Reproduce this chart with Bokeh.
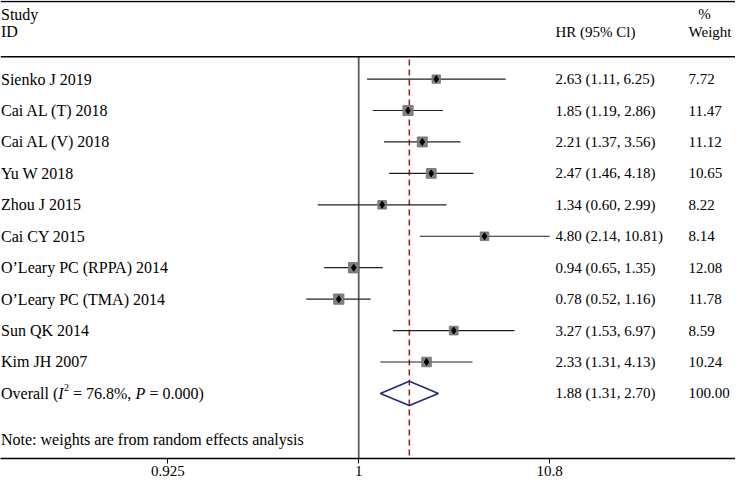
import math
from bokeh.plotting import figure
from bokeh.models import Range1d, Span, FixedTicker, ColumnDataSource
from bokeh.core.properties import value
from bokeh.embed import file_html
from bokeh.resources import INLINE

# ---------------- data ----------------
studies = ["Sienko J 2019", "Cai AL (T) 2018", "Cai AL (V) 2018", "Yu W 2018",
           "Zhou J 2015", "Cai CY 2015", "O\u2019Leary PC (RPPA) 2014",
           "O\u2019Leary PC (TMA) 2014", "Sun QK 2014", "Kim JH 2007"]
hr = [2.63, 1.85, 2.21, 2.47, 1.34, 4.80, 0.94, 0.78, 3.27, 2.33]
ci_low = [1.11, 1.19, 1.37, 1.46, 0.60, 2.14, 0.65, 0.52, 1.53, 1.31]
ci_high = [6.25, 2.86, 3.56, 4.18, 2.99, 10.81, 1.35, 1.16, 6.97, 4.13]
weights = [7.72, 11.47, 11.12, 10.65, 8.22, 8.14, 12.08, 11.78, 8.59, 10.24]
overall_hr = 1.88
overall_low = 1.31
overall_high = 2.70
overall_weight = 100.00
tick_values = [0.0925, 1, 10.8]
tick_labels = ["0.925", "1", "10.8"]

# ---------------- layout helpers ----------------
K = 81.95   # reference px per ln unit
X0 = 366.0  # reference px of HR = 1


def xref(px):
    return math.exp((px - X0) / K)


SERIF = "Liberation Serif"
NB = "\u00a0"
rows = list(range(len(studies)))
overall_row = len(studies)

p = figure(width=735, height=478, x_axis_type="log",
           x_range=Range1d(xref(0), xref(751)), y_range=Range1d(12.07, -2.5),
           y_axis_location=None, toolbar_location=None, output_backend="svg",
           min_border=0, min_border_left=0, min_border_right=0, min_border_top=0)
p.outline_line_color = None
p.xgrid.visible = False
p.ygrid.visible = False
p.background_fill_color = "white"
p.border_fill_color = "white"

# horizontal rules
p.add_layout(Span(location=-2.47, dimension="width", line_color="black", line_width=1.5))
p.add_layout(Span(location=-0.71, dimension="width", line_color="black", line_width=1.5))

# reference line at 1 and overall dashed line
p.segment(x0=[1], y0=[-0.71], x1=[1], y1=[12.07], line_color="#555555", line_width=1.7)
p.segment(x0=[overall_hr], y0=[-0.62], x1=[overall_hr], y1=[12.07],
          line_color="#9b1b1b", line_width=1.5, line_dash="6 4")

# study CIs and boxes
src = ColumnDataSource(dict(
    y=rows, hr=hr, lo=ci_low, hi=ci_high,
    size=[3.0 * math.sqrt(w) for w in weights],
    label=studies,
    est=[f"{h:.2f} ({l:.2f}, {u:.2f})" for h, l, u in zip(hr, ci_low, ci_high)],
    wt=[f"{w:.2f}" for w in weights],
))
p.segment(x0="lo", y0="y", x1="hi", y1="y", source=src, line_color="#222222", line_width=1.2)
p.scatter(x="hr", y="y", size="size", marker="square", source=src,
          fill_color="#808080", line_color="#6e6e6e", line_width=0.8)
p.scatter(x="hr", y="y", size=7, marker="diamond", source=src,
          fill_color="black", line_color="black")

# overall diamond
h = 0.386
p.patch(x=[overall_low, overall_hr, overall_high, overall_hr],
        y=[overall_row, overall_row - h, overall_row, overall_row + h],
        fill_color=None, line_color="#1f2a7a", line_width=1.6)

# ---------------- texts ----------------
x_left = xref(0.5)
x_est = xref(567)
x_wt = xref(703)

p.text(x=x_left, y="y", text="label", source=src, text_font=value(SERIF),
       text_font_size="16px", text_baseline="middle", text_align="left", text_color="black")
p.text(x=x_est, y="y", text="est", source=src, text_font=value(SERIF),
       text_font_size="15px", text_baseline="middle", text_align="left", text_color="black")
p.text(x=x_wt, y="y", text="wt", source=src, text_font=value(SERIF),
       text_font_size="15px", text_baseline="middle", text_align="left", text_color="black")

# headers
p.text(x=[x_left, x_left], y=[-2.07, -1.51], text=["Study", "ID"], text_font=value(SERIF),
       text_font_size="16px", text_baseline="middle", text_align="left", text_color="black")
p.text(x=[x_est], y=[-1.51], text=["HR (95% Cl)"], text_font=value(SERIF),
       text_font_size="15px", text_baseline="middle", text_align="left", text_color="black")
p.text(x=[xref(713), x_wt], y=[-2.07, -1.51], text=["%", "Weight"], text_font=value(SERIF),
       text_font_size="15px", text_baseline="middle", text_align="left", text_color="black")

# overall row
p.text(x=[x_est], y=[overall_row],
       text=[f"{overall_hr:.2f} ({overall_low:.2f}, {overall_high:.2f})"],
       text_font=value(SERIF), text_font_size="15px", text_baseline="middle", text_color="black")
p.text(x=[x_wt], y=[overall_row], text=[f"{overall_weight:.2f}"],
       text_font=value(SERIF), text_font_size="15px", text_baseline="middle", text_color="black")

pieces = [("Overall" + NB + "(", "normal", 0.0, 0, "16px"),
          ("I", "italic", 57.3, 0, "16px"),
          ("2", "normal", 63.0, -6, "10px"),
          (NB + "=" + NB + "76.8%," + NB, "normal", 68.0, 0, "16px"),
          ("P", "italic", 134.5, 0, "16px"),
          (NB + "=" + NB + "0.000)", "normal", 144.5, 0, "16px")]
for txt, style, xo, yo, fs in pieces:
    p.text(x=[x_left], y=[overall_row], text=[txt], x_offset=xo, y_offset=yo,
           text_font=value(SERIF), text_font_style=style, text_font_size=fs,
           text_baseline="middle", text_align="left", text_color="black")

p.text(x=[x_left], y=[11.48], text=["Note: weights are from random effects analysis"],
       text_font=value(SERIF), text_font_size="16px", text_baseline="middle",
       text_align="left", text_color="black")

# ---------------- axis ----------------
ax = p.xaxis[0]
ax.ticker = FixedTicker(ticks=tick_values)
ax.major_label_overrides = {v: lab for v, lab in zip(tick_values, tick_labels)}
ax.minor_tick_line_color = None
ax.major_tick_in = 0
ax.major_tick_out = 5
ax.major_tick_line_color = "black"
ax.axis_line_color = "black"
ax.axis_line_width = 1.5
ax.major_label_standoff = 2
ax.major_label_text_font = SERIF
ax.major_label_text_font_size = "15px"
ax.major_label_text_color = "black"

open("out.html", "w").write(file_html(p, INLINE))
